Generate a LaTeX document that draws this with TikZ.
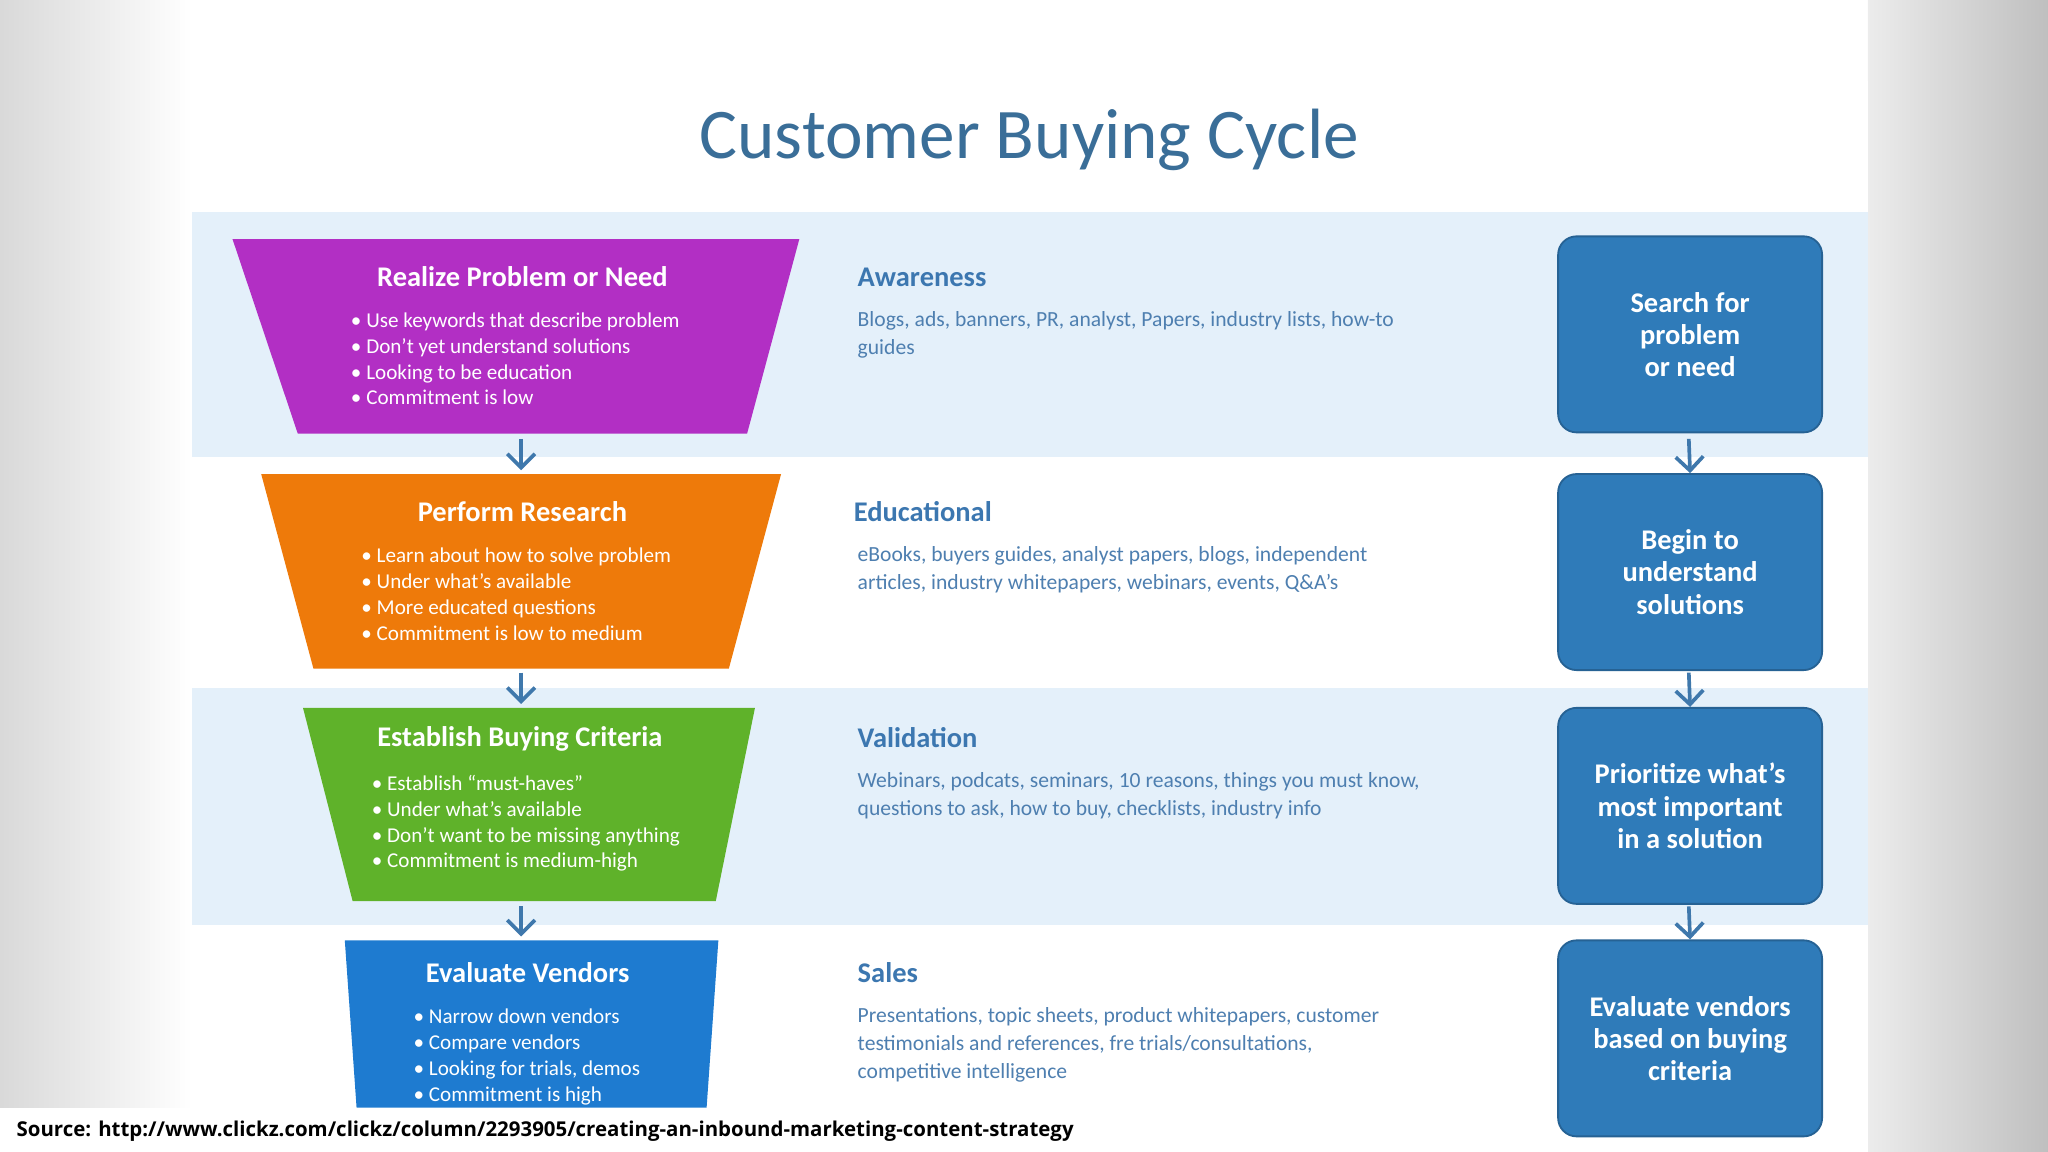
\documentclass[tikz,border=0pt]{standalone}
\usepackage{fontspec}
\setmainfont{Carlito}
\newfontfamily\srcfont{Open Sans}
\usetikzlibrary{arrows.meta}
\definecolor{band}{HTML}{E4F0FA}
\definecolor{titc}{HTML}{3A6E98}
\definecolor{headc}{HTML}{3C77B0}
\definecolor{bodyc}{HTML}{4E7FB0}
\definecolor{boxc}{HTML}{2F7BB9}
\definecolor{arrc}{HTML}{3F78AC}
\definecolor{purp}{HTML}{B22FC4}
\definecolor{orng}{HTML}{EE7A0A}
\definecolor{grn}{HTML}{5FB22A}
\definecolor{blu}{HTML}{1E7BD0}
\tikzset{
  rbox/.style={fill=boxc, draw=boxc!80!black, rounded corners=4, text=white, font=\fontsize{6.2}{7}\selectfont\bfseries, align=center, minimum width=2.02cm, minimum height=1.5cm},
  flow/.style={-{Straight Barb[length=3pt,width=6pt]}, arrc, line width=0.8pt},
  thead/.style={text=white, font=\fontsize{6.2}{7}\selectfont\bfseries},
  tlist/.style={text=white, font=\fontsize{4.6}{5.6}\selectfont, align=left, anchor=north west, inner sep=0pt},
  shead/.style={text=headc, font=\fontsize{6.2}{7}\selectfont\bfseries, anchor=west, inner sep=0pt},
  sbody/.style={text=bodyc, font=\fontsize{4.7}{6}\selectfont, align=left, anchor=north west, inner sep=0pt},
}
\begin{document}
\begin{tikzpicture}[x=0.01cm,y=-0.01cm]
\useasboundingbox (0,0) rectangle (1568,882);
\shade[left color=gray!30, right color=white] (0,0) rectangle (147,848);
\shade[left color=gray!15, right color=gray!50] (1430,0) rectangle (1568,882);
\fill[white] (0,848) rectangle (1430,882);
\fill[white] (147,62) rectangle (1430,848);
\fill[band] (147,162) rectangle (1430,350);
\fill[band] (147,527) rectangle (1430,708);
\node[text=titc, font=\fontsize{15.5}{17}\selectfont] (title) at (788,107) {Customer Buying Cycle};
% trapezoids
\path[fill=purp] (178,183) -- (612,183) -- (572,332) -- (228,332) -- cycle;
\path[fill=orng] (200,363) -- (598,363) -- (558,512) -- (240,512) -- cycle;
\path[fill=grn] (232,542) -- (578,542) -- (548,690) -- (270,690) -- cycle;
\path[fill=blu] (264,720) -- (550,720) -- (541,848) -- (273,848) -- cycle;
\node[thead] (h1) at (400,212) {Realize Problem or Need};
\node[tlist] (l1) at (268,239) {• Use keywords that describe problem\\• Don't yet understand solutions\\• Looking to be education\\• Commitment is low};
\node[thead] (h2) at (400,392) {Perform Research};
\node[tlist] (l2) at (276,419) {• Learn about how to solve problem\\• Under what's available\\• More educated questions\\• Commitment is low to medium};
\node[thead] (h3) at (398,566) {Establish Buying Criteria};
\node[tlist] (l3) at (284,593) {• Establish “must-haves”\\• Under what's available\\• Don't want to be missing anything\\• Commitment is medium-high};
\node[thead] (h4) at (404,745) {Evaluate Vendors};
\node[tlist] (l4) at (316,772) {• Narrow down vendors\\• Compare vendors\\• Looking for trials, demos\\• Commitment is high};
\coordinate (a1) at (399,336); \coordinate (b1) at (399,360);
\coordinate (a2) at (399,515); \coordinate (b2) at (399,539);
\coordinate (a3) at (399,694); \coordinate (b3) at (399,717);
\draw[flow] (a1) -- (b1); \draw[flow] (a2) -- (b2); \draw[flow] (a3) -- (b3);
% middle
\node[shead] (s1) at (656,212) {Awareness};
\node[sbody] (t1) at (656,238) {Blogs, ads, banners, PR, analyst, Papers, industry lists, how-to\\guides};
\node[shead] (s2) at (653,392) {Educational};
\node[sbody] (t2) at (656,418) {eBooks, buyers guides, analyst papers, blogs, independent\\articles, industry whitepapers, webinars, events, Q\&A's};
\node[shead] (s3) at (656,565) {Validation};
\node[sbody] (t3) at (656,591) {Webinars, podcats, seminars, 10 reasons, things you must know,\\questions to ask, how to buy, checklists, industry info};
\node[shead] (s4) at (656,745) {Sales};
\node[sbody] (t4) at (656,771) {Presentations, topic sheets, product whitepapers, customer\\testimonials and references, fre trials/consultations,\\competitive intelligence};
% right boxes
\node[rbox] (r1) at (1294,256) {Search for\\problem\\or need};
\node[rbox] (r2) at (1294,438) {Begin to\\understand\\solutions};
\node[rbox] (r3) at (1294,617) {Prioritize what's\\most important\\in a solution};
\node[rbox] (r4) at (1294,795) {Evaluate vendors\\based on buying\\criteria};
\coordinate (c1) at (1293,336); \coordinate (c2) at (1293,515); \coordinate (c3) at (1293,694);
\draw[flow] (c1) -- (r2.north);
\draw[flow] (c2) -- (r3.north);
\draw[flow] (c3) -- (r4.north);
\node[anchor=west, inner sep=0pt, font=\srcfont\fontsize{4.45}{6}\selectfont\bfseries] (src) at (12,866) {Source: http://www.clickz.com/clickz/column/2293905/creating-an-inbound-marketing-content-strategy};
\end{tikzpicture}
\end{document}
